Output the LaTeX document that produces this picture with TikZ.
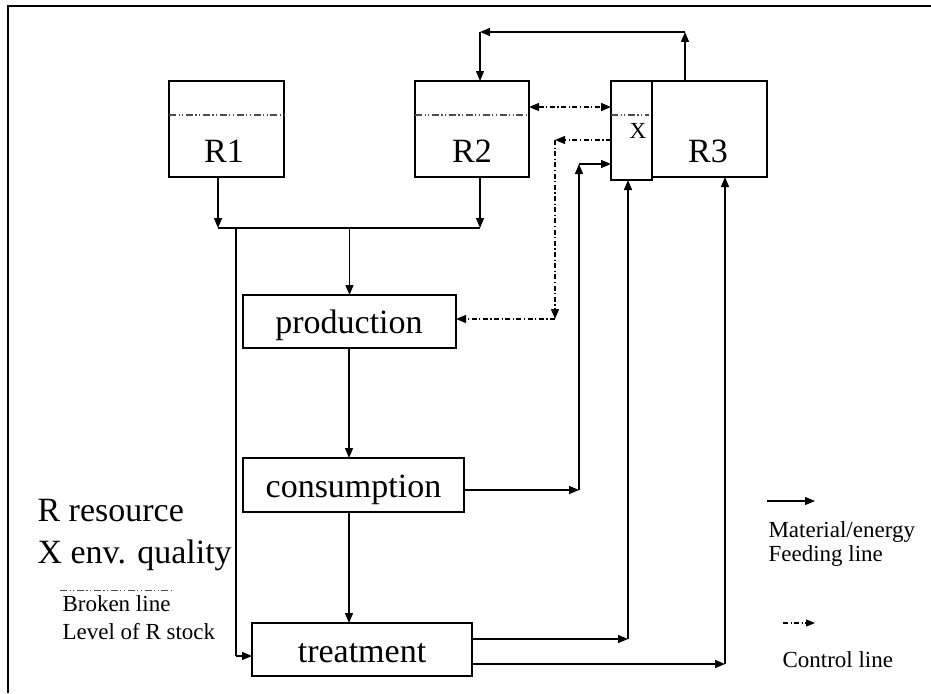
\documentclass[tikz,border=0pt]{standalone}
\usepackage{fontspec}
\setmainfont{Liberation Serif}
\usetikzlibrary{arrows.meta}
\begin{document}
\begin{tikzpicture}[x=1pt,y=-1pt,
  box/.style={draw,line width=1.3pt,inner sep=0pt,outer sep=0pt},
  big/.style={font=\fontsize{34}{36}\selectfont},
  small/.style={font=\fontsize{23}{24}\selectfont},
  feed/.style={line width=1.3pt,-{Triangle[length=10pt,width=8pt]}},
  plain/.style={line width=1.3pt},
  ctrl/.style={line width=1.2pt,dash pattern=on 5pt off 2.5pt on 1.2pt off 2.5pt,-{Triangle[length=10pt,width=8pt]}},
  level/.style={line width=1.2pt,gray!60!black,dash pattern=on 7pt off 2.5pt on 1.2pt off 2.5pt on 1.2pt off 2.5pt},
]
\useasboundingbox (0,0) rectangle (931,693);
% frame
\draw[line width=2.4pt] (8,693) -- (8,6) -- (931,6);

% stocks
\node[box,minimum width=115,minimum height=96] (R1) at (226.5,129) {};
\node[box,minimum width=114,minimum height=96] (R2) at (472,129) {};
\node[box,minimum width=41,minimum height=99] (X) at (631.5,130.5) {};
\node[box,minimum width=115,minimum height=96] (R3) at (709.5,129) {};
\coordinate (lv) at (0,115);
\draw[level] (R1.west |- lv) -- (R1.east |- lv);
\draw[level] (R2.west |- lv) -- (R2.east |- lv);
\draw[level] (X.west |- lv) -- ([xshift=-3]X.east |- lv);
\node[big,anchor=base] (R1t) at (224,162) {R1};
\node[big,anchor=base] (R2t) at (472,162) {R2};
\node[big,anchor=base] (R3t) at (708,162) {R3};
\node[small,anchor=base] (Xt) at (638,138) {X};

% processes
\node[box,minimum width=213,minimum height=53] (prod) at (349.5,321.5) {};
\node[box,minimum width=221,minimum height=54] (cons) at (353.5,485) {};
\node[box,minimum width=220,minimum height=53] (treat) at (362,649.5) {};
\node[big,anchor=base] (prodt) at (349,333) {production};
\node[big,anchor=base] (const) at (353.5,497) {consumption};
\node[big,anchor=base] (treatt) at (362,662) {treatment};

% supply from R1 and R2
\coordinate (j1) at (218,228);
\coordinate (j2) at (480,228);
\draw[feed] (R1.south -| j1) -- (j1);
\draw[feed] (R2.south -| j2) -- (j2);
\draw[plain] (j1) -- (j2);
\draw[feed] (prod.north |- j1) -- (prod.north);
\coordinate (t1) at (236,656);
\draw[plain] (t1 |- j1) -- (t1);
\draw[feed] (t1) -- (treat.west |- t1);

% main chain
\coordinate (mx) at (349,0);
\draw[feed] (prod.south -| mx) -- (cons.north -| mx);
\draw[feed] (cons.south -| mx) -- (treat.north -| mx);

% consumption to X
\coordinate (c1) at (579,490);
\coordinate (c2) at (579,164);
\draw[feed] (cons.east |- c1) -- (c1);
\draw[feed] (c1) -- (c2);
\draw[feed] (c2) -- (X.west |- c2);

% treatment to X and R3
\coordinate (d1) at (628,639);
\coordinate (e1) at (725,664);
\draw[feed] (treat.east |- d1) -- (d1);
\draw[feed] (d1) -- (X.south -| d1);
\draw[feed] (treat.east |- e1) -- (e1);
\draw[feed] (e1) -- (R3.south -| e1);

% R3 back to R2
\coordinate (u1) at (685,32);
\coordinate (u2) at (480,32);
\draw[feed] (R3.north -| u1) -- (u1);
\draw[feed] (u1) -- (u2);
\draw[feed] (u2) -- (R2.north -| u2);

% control lines
\coordinate (k0) at (0,107);
\draw[ctrl,{Triangle[length=10pt,width=8pt]}-{Triangle[length=10pt,width=8pt]}] (R2.east |- k0) -- (X.west |- k0);
\coordinate (k1) at (555,140);
\coordinate (k2) at (555,319);
\draw[ctrl] (X.west |- k1) -- (k1);
\draw[ctrl] (k1) -- (k2);
\draw[ctrl] (k2) -- (prod.east |- k2);

% legend, left
\node[big,anchor=base west] (lr) at (34,521) {R resource};
\node[big,anchor=base west] (lx) at (34,563) {X env. quality};
\coordinate (b1) at (60,590);
\coordinate (b2) at (172,590);
\draw[level,line width=0.9pt] (b1) -- (b2);
\node[small,anchor=base west] (lb) at (59,611) {Broken line};
\node[small,anchor=base west] (ll) at (59,639) {Level of R stock};

% legend, right
\coordinate (m1) at (767,501);
\coordinate (m2) at (815,501);
\draw[feed] (m1) -- (m2);
\node[small,anchor=base west] (lm) at (765,537) {Material/energy};
\node[small,anchor=base west] (lf) at (765,561) {Feeding line};
\coordinate (n1) at (783,623);
\coordinate (n2) at (815,623);
\draw[ctrl,-{Triangle[length=9pt,width=7pt]}] (n1) -- (n2);
\node[small,anchor=base west] (lc) at (779,667) {Control line};
\end{tikzpicture}
\end{document}
